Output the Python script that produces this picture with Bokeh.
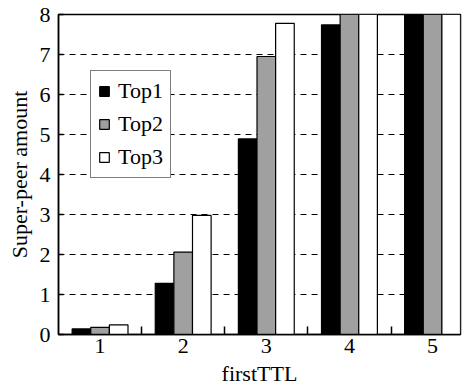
from bokeh.plotting import figure
from bokeh.models import ColumnDataSource, FixedTicker, Range1d, Legend, LegendItem
from bokeh.transform import dodge
from bokeh.embed import file_html
from bokeh.resources import INLINE

# ---- data ----
ttl = [1, 2, 3, 4, 5]
top1 = [0.14, 1.28, 4.89, 7.74, 8.0]
top2 = [0.18, 2.06, 6.95, 8.0, 8.0]
top3 = [0.24, 2.98, 7.78, 8.0, 8.0]
series_names = ["Top1", "Top2", "Top3"]
series_colors = ["#000000", "#a0a0a0", "#ffffff"]
y_ticks = [0, 1, 2, 3, 4, 5, 6, 7, 8]
x_title = "firstTTL"
y_title = "Super-peer amount"

FONT = "Liberation Serif"
FS = "22px"
BW = 0.224

src = ColumnDataSource(dict(x=ttl, Top1=top1, Top2=top2, Top3=top3))

p = figure(width=465, height=388, output_backend="svg", toolbar_location=None,
           x_range=Range1d(0.5, 5 + 1.5 * BW), y_range=Range1d(0, 8),
           min_border_left=58, min_border_right=5, min_border_top=14, min_border_bottom=54)
p.background_fill_color = "white"
p.border_fill_color = "white"
p.outline_line_color = "black"
p.outline_line_width = 1.5
p.outline_line_alpha = 1.0

renderers = []
for i, (name, col) in enumerate(zip(series_names, series_colors)):
    r = p.vbar(x=dodge("x", (i - 1) * BW, range=p.x_range), top=name, bottom=0,
               width=BW, source=src, fill_color=col, line_color="black", line_width=1.2)
    renderers.append(r)

# axes
xa = p.xaxis[0]
xa.ticker = FixedTicker(ticks=ttl, minor_ticks=[1.5, 2.5, 3.5, 4.5])
xa.major_tick_in = 0
xa.major_tick_out = 0
xa.minor_tick_in = 8
xa.minor_tick_out = 0
xa.minor_tick_line_color = "black"
xa.minor_tick_line_width = 1.5
xa.axis_line_color = "black"
xa.axis_line_width = 1.5
xa.major_label_text_font = FONT
xa.major_label_text_font_size = FS
xa.major_label_text_color = "black"
xa.major_label_standoff = 4
xa.axis_label = x_title
xa.axis_label_text_font = FONT
xa.axis_label_text_font_size = FS
xa.axis_label_text_font_style = "normal"
xa.axis_label_text_color = "black"
xa.axis_label_standoff = 5

ya = p.yaxis[0]
ya.ticker = FixedTicker(ticks=y_ticks)
ya.minor_tick_line_color = None
ya.major_tick_in = 5
ya.major_tick_out = 0
ya.major_tick_line_color = "black"
ya.major_tick_line_width = 1.5
ya.axis_line_color = "black"
ya.axis_line_width = 1.5
ya.major_label_text_font = FONT
ya.major_label_text_font_size = FS
ya.major_label_text_color = "black"
ya.major_label_standoff = 8
ya.axis_label = y_title
ya.axis_label_text_font = FONT
ya.axis_label_text_font_size = FS
ya.axis_label_text_font_style = "normal"
ya.axis_label_text_color = "black"
ya.axis_label_standoff = 5

# grid
p.xgrid.visible = False
p.ygrid.ticker = FixedTicker(ticks=y_ticks[1:-1])
p.ygrid.grid_line_color = "black"
p.ygrid.grid_line_width = 1.2
p.ygrid.grid_line_dash = "6 5"

legend = Legend(items=[LegendItem(label=n, renderers=[r]) for n, r in zip(series_names, renderers)],
                location=(32, 156), margin=0, padding=7, spacing=7,
                glyph_width=12, glyph_height=12, label_height=20, label_standoff=8,
                label_text_font=FONT, label_text_font_size=FS, label_text_color="black",
                border_line_color="black", border_line_width=1.2,
                background_fill_color="white", background_fill_alpha=1.0)
p.add_layout(legend, "center")

open("out.html", "w").write(file_html(p, INLINE))
